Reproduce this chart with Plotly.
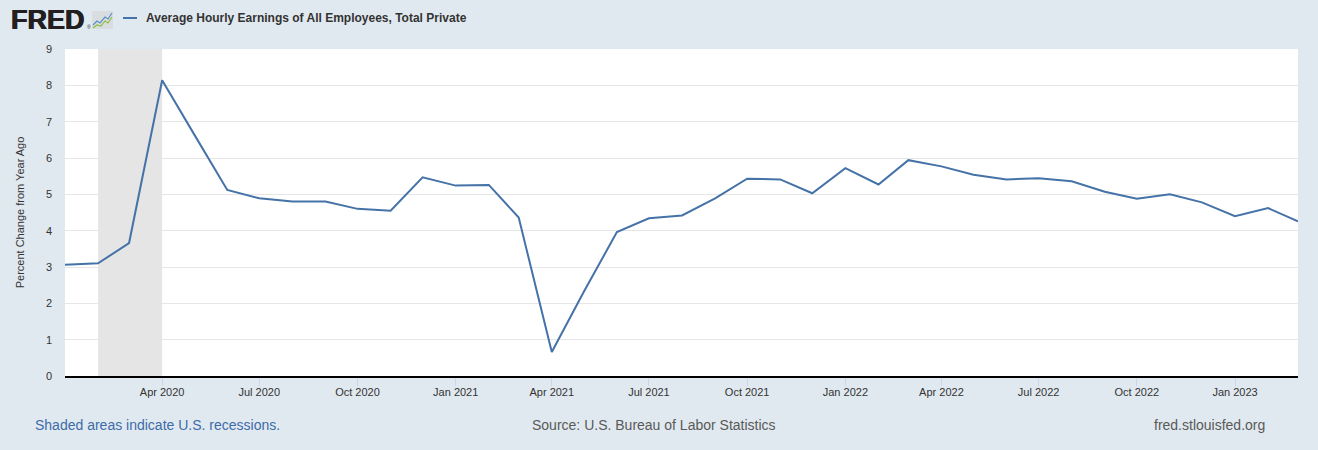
import plotly.graph_objects as go

# dados (variação % anual, mensal)
months = [
    "2020-01-01", "2020-02-01", "2020-03-01", "2020-04-01", "2020-05-01", "2020-06-01",
    "2020-07-01", "2020-08-01", "2020-09-01", "2020-10-01", "2020-11-01", "2020-12-01",
    "2021-01-01", "2021-02-01", "2021-03-01", "2021-04-01", "2021-05-01", "2021-06-01",
    "2021-07-01", "2021-08-01", "2021-09-01", "2021-10-01", "2021-11-01", "2021-12-01",
    "2022-01-01", "2022-02-01", "2022-03-01", "2022-04-01", "2022-05-01", "2022-06-01",
    "2022-07-01", "2022-08-01", "2022-09-01", "2022-10-01", "2022-11-01", "2022-12-01",
    "2023-01-01", "2023-02-01", "2023-03-01",
]
pct_change = [
    3.06, 3.10, 3.66, 8.14, 6.65, 5.12,
    4.89, 4.80, 4.80, 4.60, 4.55, 5.47,
    5.24, 5.26, 4.36, 0.66, 2.32, 3.96,
    4.34, 4.42, 4.89, 5.43, 5.41, 5.03,
    5.72, 5.27, 5.94, 5.77, 5.54, 5.41,
    5.44, 5.36, 5.07, 4.88, 5.00, 4.78,
    4.40, 4.62, 4.26,
]

recession_start = "2020-02-01"
recession_end = "2020-04-01"

tick_dates = [
    "2020-04-01", "2020-07-01", "2020-10-01", "2021-01-01", "2021-04-01", "2021-07-01",
    "2021-10-01", "2022-01-01", "2022-04-01", "2022-07-01", "2022-10-01", "2023-01-01",
]
tick_labels = [
    "Apr 2020", "Jul 2020", "Oct 2020", "Jan 2021", "Apr 2021", "Jul 2021",
    "Oct 2021", "Jan 2022", "Apr 2022", "Jul 2022", "Oct 2022", "Jan 2023",
]
y_ticks = list(range(0, 10))

SERIES_NAME = "Average Hourly Earnings of All Employees, Total Private"
LINE_COLOR = "#4572a7"
BG = "#e1e9f0"
FONT = "Liberation Sans, Arial, sans-serif"

W, H = 1318, 450
L, R, T, B = 65, 20, 49, 74


def px(x):
    """Converte pixel horizontal em coordenada paper."""
    return (x - L) / (W - L - R)


def py(y):
    """Converte pixel vertical em coordenada paper."""
    return (H - B - y) / (H - T - B)


fig = go.Figure()

fig.add_trace(
    go.Scatter(
        x=months,
        y=pct_change,
        mode="lines",
        line=dict(color=LINE_COLOR, width=2),
        name=SERIES_NAME,
        showlegend=False,
    )
)

# área de recessão
fig.add_shape(
    type="rect",
    xref="x", yref="paper",
    x0=recession_start, x1=recession_end, y0=0, y1=1,
    fillcolor="#e5e5e5", line=dict(width=0), layer="below",
)

# legenda manual
fig.add_shape(
    type="line", xref="paper", yref="paper",
    x0=px(123), x1=px(137), y0=py(18), y1=py(18),
    line=dict(color=LINE_COLOR, width=2),
)
fig.add_annotation(
    x=px(144), y=py(18), xref="paper", yref="paper",
    text="<b>" + SERIES_NAME + "</b>",
    showarrow=False, xanchor="left", yanchor="middle",
    font=dict(family=FONT, size=12, color="#333333"),
)

# logo FRED
fig.add_annotation(
    x=px(9), y=py(20), xref="paper", yref="paper",
    text="<b>FRED</b>", showarrow=False, xanchor="left", yanchor="middle",
    font=dict(family=FONT, size=27, color="#231f20",
              shadow="0.6px 0 0 #231f20, -0.6px 0 0 #231f20"),
)
fig.add_annotation(
    x=px(85), y=py(27), xref="paper", yref="paper",
    text="®", showarrow=False, xanchor="left", yanchor="middle",
    font=dict(family=FONT, size=5, color="#231f20"),
)
fig.add_shape(
    type="rect", xref="paper", yref="paper",
    x0=px(92), x1=px(113), y0=py(29), y1=py(11),
    fillcolor="#d9dde0", line=dict(width=0),
)
fig.add_shape(
    type="path", xref="paper", yref="paper",
    path=(f"M {px(93)},{py(25)} L {px(97)},{py(21)} L {px(100)},{py(23)} "
          f"L {px(105)},{py(17)} L {px(108)},{py(19)} L {px(112)},{py(13)}"),
    line=dict(color="#5b8ec4", width=1.2),
)
fig.add_shape(
    type="path", xref="paper", yref="paper",
    path=(f"M {px(93)},{py(28)} L {px(97)},{py(25)} L {px(101)},{py(26)} "
          f"L {px(105)},{py(21)} L {px(108)},{py(23)} L {px(112)},{py(17)}"),
    line=dict(color="#8cbf3f", width=1.2),
)

# rodapé
fig.add_annotation(
    x=px(33), y=py(425), xref="paper", yref="paper",
    text="Shaded areas indicate U.S. recessions.", showarrow=False,
    xanchor="left", yanchor="middle",
    font=dict(family=FONT, size=14, color="#3c6ca8"),
)
fig.add_annotation(
    x=px(654), y=py(425), xref="paper", yref="paper",
    text="Source: U.S. Bureau of Labor Statistics", showarrow=False,
    xanchor="center", yanchor="middle",
    font=dict(family=FONT, size=14, color="#595959"),
)
fig.add_annotation(
    x=px(1267), y=py(425), xref="paper", yref="paper",
    text="fred.stlouisfed.org", showarrow=False,
    xanchor="right", yanchor="middle",
    font=dict(family=FONT, size=14, color="#595959"),
)

fig.update_layout(
    width=W,
    height=H,
    margin=dict(l=L, r=R, t=T, b=B),
    paper_bgcolor=BG,
    plot_bgcolor="#ffffff",
    font=dict(family=FONT, size=11, color="#333333"),
    showlegend=False,
)

fig.update_xaxes(
    range=["2020-01-01", "2023-03-01"],
    tickvals=tick_dates,
    ticktext=tick_labels,
    ticks="outside",
    ticklen=8,
    tickcolor="#ccd6eb",
    ticklabelstandoff=-3,
    showgrid=False,
    showline=True,
    linecolor="#000000",
    linewidth=2,
    zeroline=False,
    tickfont=dict(size=11, color="#333333"),
)

fig.update_yaxes(
    range=[0, 9],
    tickvals=y_ticks,
    showgrid=True,
    gridcolor="#e6e6e6",
    gridwidth=1,
    zeroline=False,
    ticklabelstandoff=12,
    tickfont=dict(size=11, color="#333333"),
    title=dict(
        text="Percent Change from Year Ago",
        font=dict(size=11, color="#333333"),
        standoff=19,
    ),
)

# tira a margem padrão do body para a figura ocupar a janela toda
fig.write_html(
    "out.html",
    config={"displayModeBar": False},
    post_script="document.body.style.margin='0';",
)
